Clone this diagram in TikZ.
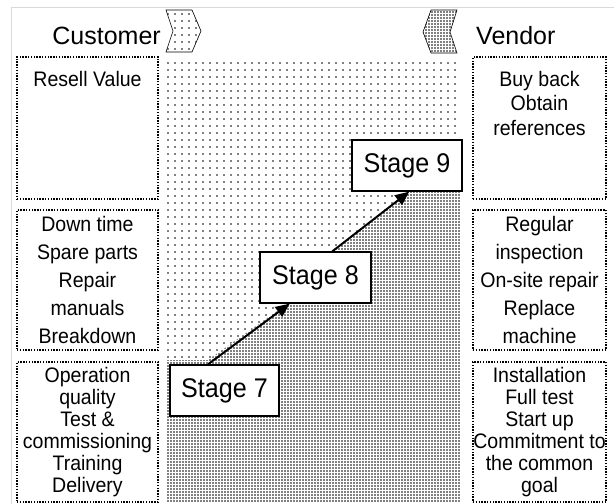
\documentclass[tikz,border=0pt]{standalone}
\usepackage{fontspec}
\setmainfont{Liberation Sans}
\newfontfamily\tallfont[FakeStretch=0.93]{Liberation Sans}
\usetikzlibrary{patterns,patterns.meta,arrows.meta,calc}
\begin{document}
\begin{tikzpicture}[x=1pt,y=-1pt,
  dbox/.style={draw, line width=1.4pt, dash pattern=on 1.4pt off 1.4pt, inner sep=0pt, align=center},
  ltext/.style={font=\tallfont\fontsize{21}{28}\selectfont},
  stext/.style={font=\tallfont\fontsize{21}{22}\selectfont},
  ttext/.style={font=\tallfont\fontsize{21}{24.5}\selectfont, inner sep=0pt, align=center},
  stagebox/.style={draw, fill=white, line width=1.3pt, minimum width=110pt, minimum height=51pt, font=\tallfont\fontsize{27}{30}\selectfont, inner sep=0pt},
  head/.style={font=\fontsize{25}{30}\selectfont, inner sep=0pt},
  flow/.style={line width=2pt, -{Triangle[length=14pt,width=12pt]}},
  light/.style={pattern={Dots[distance=7pt,radius=0.85pt]}},
  dense/.style={pattern={Dots[distance=3pt,radius=0.9pt]}},
]
\useasboundingbox (0,0) rectangle (614,504);
% frame
\draw[gray!30, line width=1pt] (11,504) -- (11,7) -- (614,7);

% headers
\node[head, anchor=base east] (cust) at (161,44) {Customer};
\node[head, anchor=base west] (vend) at (476,44) {Vendor};
\draw[light, line width=0.6pt] (166,10) -- (192,10) -- (201,31) -- (192,52) -- (166,52) -- (173,31) -- cycle;
\draw[dense, line width=0.6pt] (431,10) -- (457,10) -- (450,32) -- (457,53) -- (431,53) -- (423,32) -- cycle;

% centre region
\fill[light] (166,57) rectangle (460,502);
\fill[white] (166,360) -- (208,360) -- (290,302) -- (332,252) -- (409,191) -- (460,191) -- (460,502) -- (166,502) -- cycle;
\fill[dense] (166,360) -- (208,360) -- (290,302) -- (332,252) -- (409,191) -- (460,191) -- (460,502) -- (166,502) -- cycle;

% left boxes
\node[dbox, minimum width=141pt, minimum height=142pt] (c1) at (87.5,128) {};
\node[ttext, anchor=base] (c1t) at (87.5,86) {Resell Value};
\node[dbox, ltext, minimum width=141pt, minimum height=140pt] (c2) at (87.5,280)
  {Down time\\Spare parts\\Repair\\manuals\\Breakdown};
\node[dbox, stext, minimum width=141pt, minimum height=140pt] (c3) at (87.5,432)
  {Operation\\quality\\Test \&\\commissioning\\Training\\Delivery};

% right boxes
\node[dbox, minimum width=133pt, minimum height=142pt] (v1) at (539.5,128) {};
\node[ttext, anchor=north] (v1t) at (539.5,71) {Buy back\\Obtain\\references};
\node[dbox, ltext, minimum width=133pt, minimum height=140pt] (v2) at (539.5,280)
  {Regular\\inspection\\On-site repair\\Replace\\machine};
\node[dbox, stext, minimum width=133pt, minimum height=140pt] (v3) at (539.5,432)
  {Installation\\Full test\\Start up\\Commitment to\\the common\\goal};

% stages
\node[stagebox, minimum width=109pt] (s7) at (224.5,390.5) {Stage 7};
\node[stagebox, minimum width=111pt] (s8) at (315.5,277.5) {Stage 8};
\node[stagebox] (s9) at (407,165.5) {Stage 9};

\draw[flow] ($(s7.north west)!0.35!(s7.north east)$) -- ($(s8.south west)!0.27!(s8.south east)$);
\draw[flow] ($(s8.north west)!0.65!(s8.north east)$) -- ($(s9.south west)!0.52!(s9.south east)$);
\end{tikzpicture}
\end{document}
